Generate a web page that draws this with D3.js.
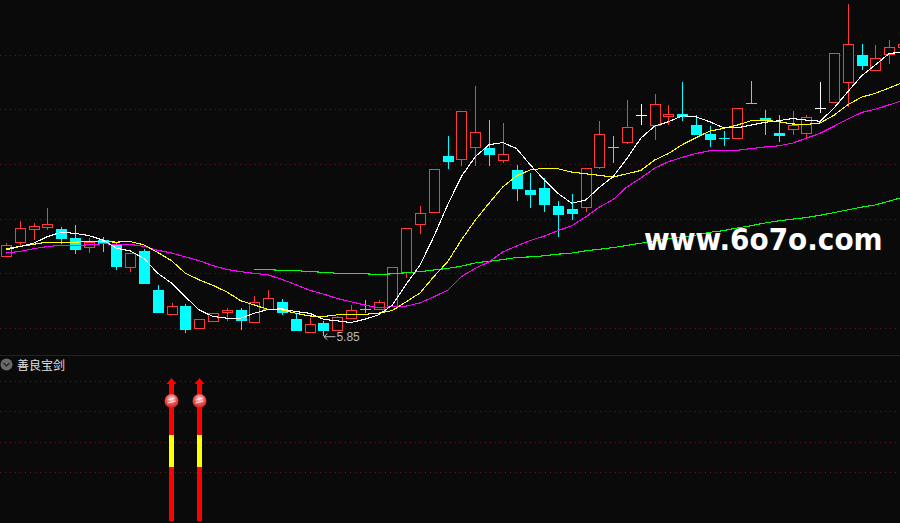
<!DOCTYPE html>
<html><head><meta charset="utf-8">
<script src="https://cdnjs.cloudflare.com/ajax/libs/d3/7.8.5/d3.min.js"></script>
<style>html,body{margin:0;padding:0;background:#0a0a0a;overflow:hidden}svg{display:block}</style>
</head><body><div id="chart"></div>
<script>
const open_ = [7.30,7.56,7.80,7.85,7.81,7.65,7.49,7.60,7.52,7.12,7.41,6.69,6.26,6.40,5.99,6.12,6.28,6.33,6.10,6.33,6.48,6.16,5.93,6.09,5.97,6.17,6.35,6.34,6.39,7.01,7.89,8.11,9.14,9.09,9.31,9.29,9.08,8.89,8.52,8.56,8.23,8.18,8.20,8.93,9.30,9.39,9.89,9.70,9.88,9.91,9.71,9.55,9.47,9.48,10.11,9.84,9.56,9.64,9.55,10.02,10.13,10.50,10.99,10.71,11.00,11.14];
const close_ = [7.51,7.82,7.86,7.91,7.65,7.44,7.58,7.54,7.13,7.37,6.83,6.29,6.40,5.98,6.16,6.27,6.32,6.15,6.47,6.54,6.30,5.96,6.07,5.96,6.20,6.32,6.35,6.47,7.11,7.82,8.10,8.90,9.05,9.96,9.58,9.18,9.19,8.56,8.45,8.27,8.08,8.10,8.92,9.54,9.30,9.67,9.89,10.09,9.91,9.88,9.55,9.45,9.47,10.02,10.11,9.80,9.53,9.71,9.85,10.02,11.02,11.19,10.81,10.93,11.13,11.19];
const high_ = [7.55,7.96,7.92,8.19,7.85,7.88,7.65,7.66,7.57,7.37,7.44,6.79,6.46,6.44,6.16,6.27,6.37,6.37,6.58,6.69,6.53,6.27,6.18,6.13,6.22,6.42,6.51,6.51,7.11,7.82,8.23,8.90,9.51,9.96,10.42,9.80,9.75,8.98,8.83,8.74,8.32,8.45,8.92,9.78,9.51,10.17,10.09,10.28,10.08,10.50,9.89,9.69,9.60,10.02,10.52,9.98,9.89,9.97,9.89,10.50,11.02,11.92,11.19,11.17,11.26,11.19];
const low_ = [7.30,7.49,7.60,7.80,7.54,7.35,7.37,7.39,7.06,7.02,6.80,6.29,6.24,5.91,5.99,6.12,6.12,5.96,6.10,6.33,6.24,5.96,5.93,5.85,5.97,6.17,6.27,6.34,6.39,6.91,7.72,8.11,8.91,8.96,8.96,8.96,9.02,8.32,8.19,8.12,7.66,7.97,8.12,8.91,9.02,9.36,9.71,9.44,9.71,9.78,9.53,9.31,9.33,9.48,10.11,9.53,9.40,9.53,9.45,9.93,10.13,10.04,10.72,10.71,10.83,11.14];
const ma5 = [7.43,7.49,7.55,7.67,7.75,7.73,7.69,7.61,7.46,7.41,7.27,7.00,6.82,6.57,6.33,6.21,6.18,6.18,6.27,6.34,6.35,6.30,6.27,6.16,6.13,6.10,6.16,6.24,6.42,6.80,7.15,7.67,8.25,8.77,9.13,9.35,9.39,9.28,8.98,8.71,8.46,8.28,8.34,8.57,8.77,9.10,9.47,9.69,9.77,9.88,9.86,9.77,9.66,9.66,9.71,9.76,9.79,9.83,9.80,9.78,10.02,10.32,10.61,10.81,11.02,11.04];
const ma10 = [7.45,7.49,7.53,7.57,7.57,7.57,7.58,7.58,7.57,7.58,7.52,7.38,7.23,7.00,6.88,6.78,6.66,6.50,6.42,6.34,6.33,6.27,6.22,6.21,6.24,6.24,6.25,6.27,6.32,6.48,6.64,6.94,7.21,7.61,7.97,8.28,8.58,8.78,8.89,8.92,8.91,8.85,8.82,8.79,8.76,8.82,8.88,9.07,9.19,9.35,9.48,9.60,9.65,9.71,9.79,9.80,9.77,9.73,9.72,9.75,9.89,10.08,10.22,10.29,10.39,10.49];
const ma20 = [7.37,7.40,7.45,7.49,7.51,7.51,7.52,7.54,7.53,7.53,7.49,7.42,7.37,7.30,7.23,7.14,7.07,7.03,7.00,6.97,6.89,6.79,6.69,6.62,6.54,6.48,6.42,6.37,6.39,6.40,6.46,6.57,6.69,6.94,7.09,7.21,7.39,7.50,7.60,7.68,7.78,7.87,8.03,8.21,8.35,8.58,8.74,8.92,9.04,9.12,9.19,9.24,9.25,9.25,9.28,9.31,9.33,9.38,9.47,9.56,9.69,9.82,9.94,10.00,10.08,10.16];
const ma60 = [7.07,7.07,7.05,7.05,7.03,7.02,7.00,6.99,6.99,6.98,6.99,7.01,7.03,7.06,7.09,7.13,7.19,7.22,7.25,7.29,7.30,7.32,7.35,7.37,7.41,7.44,7.47,7.51,7.55,7.59,7.63,7.66,7.70,7.75,7.78,7.83,7.87,7.92,7.96,7.99,8.02,8.06,8.11,8.16,8.21,8.25,8.32,8.39];
const ma60Start = 18;
const priceTicks = [6,7,8,9,10,11];
const panelTicks = [20,40,60,80];
const signalIndex = [12,14];
const signalBase = -12.4, signalYellowLow = 23.4, signalYellowHigh = 44.4, signalBall = 66.8, signalTop = 78, signalTip = 82;
const lowLabel = "5.85", lowIndex = 23;
const panelTitle = "善良宝剑";
const watermark = "www.6o7o.com";

const W = 900, H = 523;
const RED = "#ff3a3a", CYAN = "#00ffff", GRID = "#701515";
const x = d3.scaleLinear().domain([0,65]).range([6,903]);
const y = d3.scaleLinear().domain([6,11]).range([328,54.5]);
const yp = d3.scaleLinear().domain([80,20]).range([381,472]);

const svg = d3.select("#chart").append("svg").attr("width",W).attr("height",H);
svg.append("rect").attr("width",W).attr("height",H).attr("fill","#0a0a0a");

const defs = svg.append("defs");
const grad = defs.append("radialGradient").attr("id","ball").attr("cx","50%").attr("cy","35%").attr("r","65%");
grad.append("stop").attr("offset","0%").attr("stop-color","#ffe0e0");
grad.append("stop").attr("offset","55%").attr("stop-color","#f25050");
grad.append("stop").attr("offset","100%").attr("stop-color","#c02020");

const gridG = svg.append("g").attr("shape-rendering","crispEdges").attr("stroke",GRID).attr("stroke-dasharray","1,4");
gridG.selectAll(".gp").data(priceTicks).join("line").attr("class","gp")
  .attr("x1",0).attr("x2",W).attr("y1",d=>Math.round(y(d))+.5).attr("y2",d=>Math.round(y(d))+.5);
gridG.selectAll(".gq").data(panelTicks).join("line").attr("class","gq")
  .attr("x1",0).attr("x2",W).attr("y1",d=>Math.round(yp(d))+.5).attr("y2",d=>Math.round(yp(d))+.5);
svg.append("line").attr("x1",0).attr("x2",W).attr("y1",355.5).attr("y2",355.5).attr("stroke","#5e0a0a").attr("shape-rendering","crispEdges");

const rows = open_.map((o,i)=>({i,o,c:close_[i],h:high_[i],l:low_[i]}));
const hw = 5;
const colorOf = d => {
  if (d.c>d.o) return RED;
  if (d.c<d.o) return CYAN;
  return (d.i===46||d.i===59) ? "#ffffff" : CYAN;
};
const px = v => Math.round(v)+.5;
const cg = svg.append("g").attr("shape-rendering","crispEdges");
const candle = cg.selectAll("g").data(rows).join("g");
candle.append("line").attr("x1",d=>px(x(d.i))).attr("x2",d=>px(x(d.i)))
  .attr("y1",d=>y(d.h)).attr("y2",d=>y(d.l)).attr("stroke",colorOf);
candle.append("rect")
  .attr("x",d=>px(x(d.i))-hw)
  .attr("y",d=>px(y(Math.max(d.o,d.c))))
  .attr("width",hw*2)
  .attr("height",d=>Math.max(Math.abs(y(d.o)-y(d.c)),.01))
  .attr("stroke",colorOf)
  .attr("fill",d=>d.c>d.o?"#0a0a0a":colorOf(d));

const line = d3.line().x(d=>x(d[0])).y(d=>y(d[1]));
const series = [
  [ma60.map((v,k)=>[k+ma60Start,v]),"#00ff00"],
  [ma20.map((v,k)=>[k,v]),"#ff00ff"],
  [ma10.map((v,k)=>[k,v]),"#ffff00"],
  [ma5.map((v,k)=>[k,v]),"#ffffff"]
];
svg.append("g").selectAll("path").data(series).join("path")
  .attr("d",d=>line(d[0])).attr("fill","none").attr("stroke",d=>d[1]).attr("stroke-width",1.1)
  .attr("shape-rendering","crispEdges");

// low marker
const lx = x(lowIndex), ly = y(+lowLabel);
const mk = svg.append("g");
mk.append("path").attr("d",`M${lx+12},${ly+.5}H${lx+.5}M${lx+4},${ly-2.5}L${lx+.5},${ly+.5}L${lx+4},${ly+3.5}`)
  .attr("stroke","#c0c0c0").attr("fill","none").attr("stroke-width",1);
mk.append("text").attr("x",lx+13).attr("y",ly+5).text(lowLabel)
  .attr("font-family","'Liberation Sans',Arial,sans-serif").attr("font-size",12).attr("fill","#b8b8b8");

// panel title
svg.append("circle").attr("cx",6.5).attr("cy",364.5).attr("r",6).attr("fill","#6a6a6a");
svg.append("path").attr("d","M3.5,363L6.5,366L9.5,363").attr("stroke","#222").attr("stroke-width",1.2).attr("fill","none");
svg.append("text").attr("x",17).attr("y",369.5).text(panelTitle)
  .attr("font-family","'Noto Sans CJK SC',sans-serif").attr("font-size",12).attr("fill","#e0e0e0");

// signals
const sg = svg.append("g").selectAll("g").data(signalIndex).join("g").attr("transform",d=>`translate(${Math.floor(x(d))+.5},0)`);
sg.append("rect").attr("x",-2.5).attr("width",5).attr("y",yp(signalTop)).attr("height",yp(signalBase)-yp(signalTop)).attr("fill","#ff0000").attr("shape-rendering","crispEdges");
sg.append("rect").attr("x",-2.5).attr("width",5).attr("y",yp(signalYellowHigh)).attr("height",yp(signalYellowLow)-yp(signalYellowHigh)).attr("fill","#ffff00").attr("shape-rendering","crispEdges");
sg.append("path").attr("d",`M-5,${yp(signalTop)}L0,${yp(signalTip)}L5,${yp(signalTop)}Z`).attr("fill","#ff0000");
sg.append("circle").attr("r",7).attr("cy",yp(signalBall)).attr("fill","url(#ball)");
sg.append("path").attr("d",`M-4,${yp(signalBall)-1}L3.5,${yp(signalBall)-3}M-4,${yp(signalBall)+2}L4,${yp(signalBall)}`).attr("stroke","#fff").attr("stroke-width",1).attr("stroke-opacity",.85).attr("fill","none");

// watermark
svg.append("text").attr("transform","translate(644,250) scale(0.9,1)").text(watermark)
  .attr("font-family","'DejaVu Sans',sans-serif").attr("font-weight","bold").attr("font-size",31)
  .attr("fill","#ffffff");
</script></body></html>
